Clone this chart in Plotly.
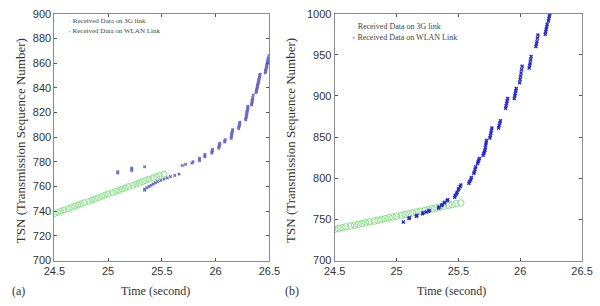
import plotly.graph_objects as go

# ---------------- data ----------------
# 3G link (same in both panels)
g3_time = [24.50, 24.53, 24.56, 24.59, 24.63, 24.66, 24.69, 24.72, 24.75, 24.78, 24.82,
           24.85, 24.88, 24.91, 24.94, 24.97, 25.00, 25.04, 25.07, 25.10, 25.13, 25.16,
           25.19, 25.23, 25.26, 25.29, 25.32, 25.35, 25.38, 25.42, 25.45, 25.48, 25.52]
g3_tsn = [738, 739, 740, 741, 742, 743, 744, 745, 746, 747, 748,
          749, 750, 751, 752, 753, 754, 755, 756, 757, 758, 759,
          760, 761, 762, 763, 764, 765, 766, 767, 768, 769, 770]

# WLAN link, panel (a)
wa_time = [25.09, 25.09, 25.22, 25.22, 25.22, 25.34,
           25.34, 25.34, 25.36, 25.38, 25.40, 25.42, 25.44, 25.46, 25.49, 25.52, 25.55,
           25.58, 25.62, 25.66,
           25.69, 25.72, 25.78, 25.79, 25.85, 25.85, 25.85, 25.90, 25.90, 25.90,
           25.965, 25.965, 25.97, 25.97,
           26.03, 26.03, 26.035, 26.035, 26.04,
           26.085, 26.085, 26.09,
           26.145, 26.145, 26.15, 26.15, 26.15, 26.155, 26.155, 26.16,
           26.215, 26.215, 26.22, 26.22, 26.225, 26.225,
           26.28, 26.28, 26.285, 26.285, 26.29, 26.29, 26.29, 26.295, 26.295, 26.30, 26.30, 26.30,
           26.335, 26.335, 26.34, 26.34, 26.34, 26.345, 26.345, 26.35,
           26.375, 26.38, 26.38, 26.385, 26.385, 26.39, 26.39, 26.395, 26.395, 26.40,
           26.40, 26.405, 26.405, 26.41, 26.41, 26.415,
           26.46, 26.465, 26.465, 26.47, 26.47, 26.475, 26.475, 26.48, 26.48, 26.485,
           26.485, 26.49, 26.49, 26.495]
wa_tsn = [771, 772, 773, 774, 775, 776,
          757, 758, 759, 760, 761, 762, 763, 764, 765, 766, 767,
          768, 769, 770,
          777, 778, 779, 780, 781, 782, 783, 784, 785, 786,
          787, 788, 789, 790,
          791, 792, 793, 794, 795,
          796, 797, 798,
          799, 800, 801, 802, 803, 804, 805, 806,
          807, 808, 809, 810, 811, 812,
          814, 815, 816, 817, 818, 819, 820, 821, 822, 823, 824, 825,
          826, 827, 828, 829, 830, 831, 832, 834,
          836, 837, 838, 839, 840, 841, 842, 843, 844, 845,
          846, 847, 848, 849, 850, 851,
          852, 853, 854, 855, 856, 857, 858, 859, 860, 861,
          862, 863, 864, 866]

# WLAN link, panel (b)
wb_time = [25.055, 25.10, 25.105, 25.16, 25.165, 25.21, 25.215, 25.24, 25.26, 25.265,
           25.34, 25.345, 25.365, 25.37, 25.385, 25.39, 25.41, 25.415,
           25.47, 25.475, 25.485, 25.49, 25.50, 25.505, 25.515, 25.52,
           25.585, 25.59, 25.60, 25.605, 25.625, 25.63, 25.635, 25.64, 25.655, 25.66, 25.665, 25.67,
           25.70, 25.705, 25.71,
           25.715, 25.718, 25.721, 25.724, 25.727,
           25.755, 25.759, 25.763, 25.767, 25.771,
           25.825, 25.83, 25.835, 25.84,
           25.882, 25.886, 25.89, 25.894, 25.898,
           25.952, 25.956, 25.96, 25.964, 25.968,
           25.995, 25.999, 26.003, 26.007, 26.011, 26.015,
           26.072, 26.076, 26.08, 26.084, 26.088,
           26.127, 26.131, 26.135, 26.139, 26.143,
           26.202, 26.206, 26.21, 26.214, 26.218,
           26.228, 26.232, 26.236, 26.24]
wb_tsn = [747, 751, 752, 754, 755, 757, 758, 759, 760, 761,
          764, 765, 767, 768, 770, 771, 773, 774,
          777, 779, 781, 783, 786, 788, 790, 792,
          794, 796, 798, 801, 806, 808, 811, 814, 818, 820, 822, 824,
          828, 830, 832,
          834, 837, 840, 843, 846,
          849, 852, 855, 858, 861,
          861, 864, 867, 870,
          885, 888, 891, 894, 897,
          897, 900, 903, 906, 909,
          916, 920, 924, 928, 932, 936,
          934, 937, 940, 944, 948,
          960, 963, 966, 970, 974,
          975, 978, 981, 984, 987,
          991, 994, 997, 1000]

x_ticks = [24.5, 25, 25.5, 26, 26.5]
x_ticklabels = ["24.5", "25", "25.5", "26", "26.5"]
ya_ticks = [700, 720, 740, 760, 780, 800, 820, 840, 860, 880, 900]
yb_ticks = [700, 750, 800, 850, 900, 950, 1000]
legend_labels = ["Received Data on 3G link", "Received Data on WLAN Link"]

green = "#86e086"
blue_a = "#6a6ac0"
blue_b = "#2a2ac8"
serif = "Liberation Serif"
sans = "Liberation Sans"

fig = go.Figure()
fig.add_trace(go.Scatter(x=g3_time, y=g3_tsn, mode="markers", name=legend_labels[0],
                         marker=dict(symbol="circle-open", size=6, color=green, line=dict(width=1)),
                         xaxis="x", yaxis="y"))
fig.add_trace(go.Scatter(x=wa_time, y=wa_tsn, mode="markers", name=legend_labels[1],
                         marker=dict(symbol="x", size=3, color=blue_a, line=dict(width=0)),
                         xaxis="x", yaxis="y"))
fig.add_trace(go.Scatter(x=g3_time, y=g3_tsn, mode="markers", name=legend_labels[0],
                         marker=dict(symbol="circle-open", size=6.5, color=green, line=dict(width=1)),
                         xaxis="x2", yaxis="y2"))
fig.add_trace(go.Scatter(x=wb_time, y=wb_tsn, mode="markers", name=legend_labels[1],
                         marker=dict(symbol="x", size=3.5, color=blue_b, line=dict(width=0)),
                         xaxis="x2", yaxis="y2"))

axis_common = dict(showline=True, linecolor="#8c8c8c", linewidth=1, mirror="ticks",
                   ticks="inside", ticklen=3, tickcolor="#555", showgrid=False, zeroline=False,
                   tickfont=dict(family=sans, size=11, color="#333"))

fig.update_layout(
    width=600, height=306,
    margin=dict(l=0, r=0, t=0, b=0),
    paper_bgcolor="white", plot_bgcolor="white",
    showlegend=False,
    xaxis=dict(domain=[0.075, 0.447], range=[24.5, 26.5], tickvals=x_ticks, ticktext=x_ticklabels,
               anchor="y", **axis_common),
    yaxis=dict(domain=[0.134, 0.974], range=[700, 900], tickvals=ya_ticks, anchor="x", **axis_common),
    xaxis2=dict(domain=[0.56, 0.988], range=[24.5, 26.5], tickvals=x_ticks, ticktext=x_ticklabels,
                anchor="y2", **axis_common),
    yaxis2=dict(domain=[0.134, 0.974], range=[700, 1000], tickvals=yb_ticks, anchor="x2", **axis_common),
)

title_font = dict(family=serif, size=12, color="#333")
annots = [
    dict(text="Time (second)", x=150 / 600, y=1 - 297 / 306),
    dict(text="Time (second)", x=457 / 600, y=1 - 297 / 306),
    dict(text="TSN (Transmission Sequence Number)", x=10 / 600, y=1 - 140 / 306, textangle=-90,
         font=dict(family=serif, size=13, color="#333")),
    dict(text="TSN (Transmission Sequence Number)", x=290 / 600, y=1 - 140 / 306, textangle=-90,
         font=dict(family=serif, size=13, color="#333")),
    dict(text="(a)", x=8 / 600, y=1 - 297 / 306),
    dict(text="(b)", x=292 / 600, y=1 - 297 / 306),
]
for a in annots:
    a.setdefault("font", title_font)
    a.update(xanchor="center")

# hand-placed legends (symbol + label as text)
legend_rows = [
    (57, 16, "○", green, legend_labels[0], 7, 5),
    (57, 26, "×", blue_a, legend_labels[1], 7, 5),
    (352, 21, "○", green, legend_labels[0], 8, 6),
    (352, 33, "×", blue_b, legend_labels[1], 8, 6),
]
for (px, py, sym, col, lab, fs, sfs) in legend_rows:
    annots.append(dict(text=f"<span style='color:{col};font-size:{sfs}px'>{sym}</span> {lab}",
                       x=px / 600, y=1 - py / 306, xanchor="left",
                       font=dict(family=serif, size=fs, color="#444")))

for a in annots:
    a.update(xref="paper", yref="paper", showarrow=False, yanchor="middle")
fig.update_layout(annotations=annots)

fig.write_html("out.html")
